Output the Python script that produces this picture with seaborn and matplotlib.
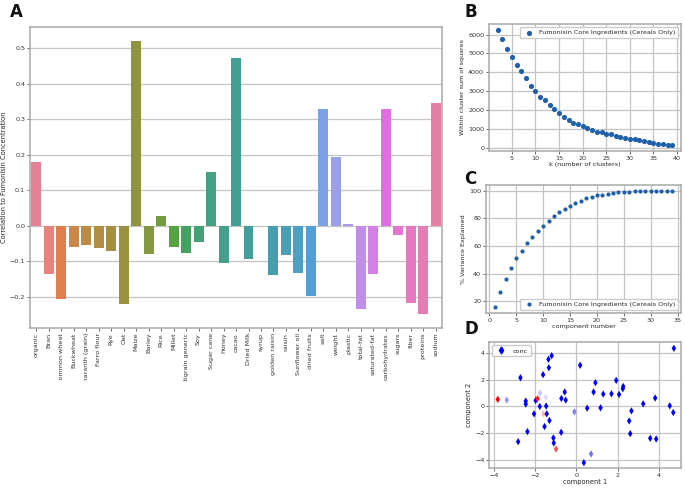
import numpy as np
import pandas as pd
import matplotlib
matplotlib.use("Agg")
import matplotlib.pyplot as plt
from matplotlib.lines import Line2D
from matplotlib.transforms import Bbox
import seaborn as sns

# ---------------- data ----------------
ingredients = ["organic", "Bran", "Common wheat", "Buckwheat", "Amaranth (grain)",
               "Farro flour", "Rye", "Oat", "Maize", "Barley", "Rice", "Millet",
               "Multigrain generic", "Soy", "Sugar cane", "Honey", "cacao", "Dried Milk",
               "syrup", "golden raisin", "raisin", "Sunflower oil", "dried fruits", "salt",
               "weight", "plastic", "total-fat", "saturated-fat", "carbohydrates",
               "sugars", "fiber", "proteins", "sodium"]
correlation = [0.180, -0.135, -0.205, -0.060, -0.055, -0.062, -0.070, -0.220, 0.521,
               -0.080, 0.027, -0.060, -0.078, -0.047, 0.152, -0.104, 0.473, -0.094,
               0.000, -0.140, -0.083, -0.133, -0.198, 0.330, 0.195, 0.004, -0.235,
               -0.137, 0.330, -0.027, -0.218, -0.250, 0.346]

k_clusters = list(range(2, 40))
wcss = [6254, 5746, 5260, 4794, 4395, 4070, 3676, 3297, 3027, 2719, 2524, 2286,
        2070, 1838, 1659, 1459, 1335, 1280, 1135, 1045, 973, 865, 830, 757, 720,
        649, 595, 540, 486, 450, 396, 360, 324, 270, 234, 216, 180, 144]

components = list(range(1, 35))
variance_explained = [15.9, 26.8, 36.3, 44.0, 51.0, 56.6, 62.0, 66.8, 70.9, 74.8,
                      78.2, 81.6, 84.3, 86.9, 89.1, 91.1, 92.7, 94.5, 95.6, 96.6,
                      97.3, 97.9, 98.4, 98.8, 99.1, 99.4, 99.6, 99.7, 99.8, 99.9,
                      100.0, 100.0, 100.0, 100.0]

pc1 = [-3.82, -3.38, -2.72, -2.46, -2.46, -2.38, -2.83, -2.06, -1.98, -1.89, -1.77,
       -1.78, -1.60, -1.55, -1.62, -1.49, -1.47, -1.44, -1.31, -1.36, -1.34, -1.20,
       -1.12, -1.10, -0.99, -0.74, -0.73, -0.57, -0.52, -0.10, 0.18, 0.36, 0.52,
       0.71, 0.83, 0.92, 1.17, 1.30, 1.70, 1.93, 2.07, 2.25, 2.27, 2.56, 2.61, 2.67,
       3.24, 3.58, 3.82, 3.87, 4.53, 4.70, 4.73]
pc2 = [0.53, 0.48, 2.15, 0.40, 0.18, -1.88, -2.63, -0.55, 0.45, 0.58, 1.00, 0.00,
       -0.55, -1.50, 2.38, 0.70, 0.03, -0.55, -1.05, 3.53, 2.90, 3.80, -2.35, -2.73,
       -3.18, -1.93, 0.60, 1.08, 0.48, -0.40, 3.08, -4.20, -0.13, -3.55, 1.08, 1.78,
       -0.10, 0.93, 0.95, 1.95, 0.90, 1.33, 1.50, -1.08, -2.03, -0.33, 0.20, -2.38,
       0.63, -2.43, 0.05, -0.45, 4.35]
conc = [1.00, 0.30, 0.0, 0.0, 0.0, 0.0, 0.0, 0.0, 0.0, 0.95, 0.38, 0.0,
        0.65, 0.0, 0.0, 0.43, 0.0, 0.0, 0.0, 0.0, 0.0, 0.0, 0.0, 0.0,
        0.85, 0.0, 0.0, 0.0, 0.0, 0.25, 0.0, 0.0, 0.0, 0.22, 0.0, 0.0,
        0.0, 0.0, 0.0, 0.0, 0.0, 0.0, 0.0, 0.0, 0.0, 0.0, 0.0, 0.0,
        0.0, 0.0, 0.0, 0.0, 0.0]

# ---------------- style ----------------
sns.set_theme(style="whitegrid")
plt.rcParams["font.family"] = ["DejaVu Sans"]
FS = 4.6
GRID = "#c4c4c4"
SPINE = "#a8a8a8"
PT_COLOR = "#2060a8"

fig = plt.figure(figsize=(6.85, 4.88), dpi=100)

def style_axes(ax, xgrid=True):
    for s in ax.spines.values():
        s.set_color(SPINE)
        s.set_linewidth(1.1)
    ax.tick_params(axis="both", labelsize=FS, length=2.0, width=0.6, color="#555555",
                   pad=1.5, labelcolor="#333333", bottom=True, left=True)
    ax.yaxis.grid(True, color=GRID, linewidth=0.9)
    if xgrid:
        ax.xaxis.grid(True, color=GRID, linewidth=0.9)
    else:
        ax.xaxis.grid(False)

# ---------------- panel A ----------------
axA = fig.add_axes([0.0438, 0.3279, 0.6015, 0.6168])
dfA = pd.DataFrame({"ingredient": ingredients, "corr": correlation})
sns.barplot(data=dfA, x="ingredient", y="corr", hue="ingredient", palette="husl",
            legend=False, ax=axA, width=0.8, linewidth=0)
axA.set_ylim(-0.288, 0.56)
axA.set_yticks([-0.2, -0.1, 0.0, 0.1, 0.2, 0.3, 0.4, 0.5])
axA.set_xlabel("")
axA.set_ylabel("Correlation to Fumonisin Concentration", fontsize=FS + 0.2, labelpad=2)
style_axes(axA, xgrid=False)
axA.tick_params(axis="x", rotation=90)
clip = Bbox.from_extents(0, (488 - 381) / 488 * fig.bbox.height, fig.bbox.width, fig.bbox.height)
for t in axA.get_xticklabels():
    t.set_clip_on(True)
    t.set_clip_box(clip)

# ---------------- panel B ----------------
axB = fig.add_axes([0.7139, 0.6906, 0.2803, 0.2602])
sns.scatterplot(x=k_clusters, y=wcss, ax=axB, color=PT_COLOR, s=14, linewidth=0,
                label="Fumonisin Core Ingredients (Cereals Only)")
axB.set_xticks([5, 10, 15, 20, 25, 30, 35, 40])
axB.set_yticks([0, 1000, 2000, 3000, 4000, 5000, 6000])
axB.set_xlabel("k (number of clusters)", fontsize=FS, labelpad=1)
axB.set_ylabel("Within cluster sum of squares", fontsize=FS, labelpad=2)
style_axes(axB)
axB.legend(loc="upper right", fontsize=FS, frameon=True, markerscale=1.0,
           handletextpad=0.6, borderpad=0.4, framealpha=1, edgecolor="#cccccc")

# ---------------- panel C ----------------
axC = fig.add_axes([0.7095, 0.3592, 0.2847, 0.2617])
sns.scatterplot(x=components, y=variance_explained, ax=axC, color=PT_COLOR, s=9,
                linewidth=0, label="Fumonisin Core Ingredients (Cereals Only)")
axC.set_xticks([0, 5, 10, 15, 20, 25, 30, 35])
axC.set_yticks([20, 40, 60, 80, 100])
axC.set_xlabel("component number", fontsize=FS, labelpad=1)
axC.set_ylabel("% Variance Explained", fontsize=FS, labelpad=2)
style_axes(axC)
axC.legend(loc="lower right", fontsize=FS, frameon=True, handletextpad=0.6,
           borderpad=0.4, framealpha=1, edgecolor="#cccccc")

# ---------------- panel D ----------------
axD = fig.add_axes([0.7143, 0.041, 0.2794, 0.2576])
sns.scatterplot(x=pc1, y=pc2, hue=conc, palette="bwr", hue_norm=(0, 1), marker="d",
                s=14, linewidth=0, legend=False, ax=axD)
axD.set_xlim(-4.23, 5.06)
axD.set_ylim(-4.6, 4.8)
axD.set_xticks([-4, -2, 0, 2, 4])
axD.set_yticks([-4, -2, 0, 2, 4])
axD.set_xlabel("component 1", fontsize=FS + 0.2, labelpad=1)
axD.set_ylabel("component 2", fontsize=FS + 0.2, labelpad=2)
style_axes(axD)
h = Line2D([], [], marker="d", color="#0000ff", linestyle="", markersize=3.5)
axD.legend([h], ["conc"], loc="upper left", fontsize=FS, frameon=True,
           handletextpad=0.8, borderpad=0.4, framealpha=1, edgecolor="#cccccc")

# ---------------- panel letters ----------------
for letter, x, y in [("A", 10, 3), ("B", 465, 3), ("C", 464, 170), ("D", 464, 320)]:
    fig.text(x / 685, 1 - y / 488, letter, fontsize=12, fontweight="bold",
             ha="left", va="top", color="#111111")

fig.savefig("out.png", dpi=100)
